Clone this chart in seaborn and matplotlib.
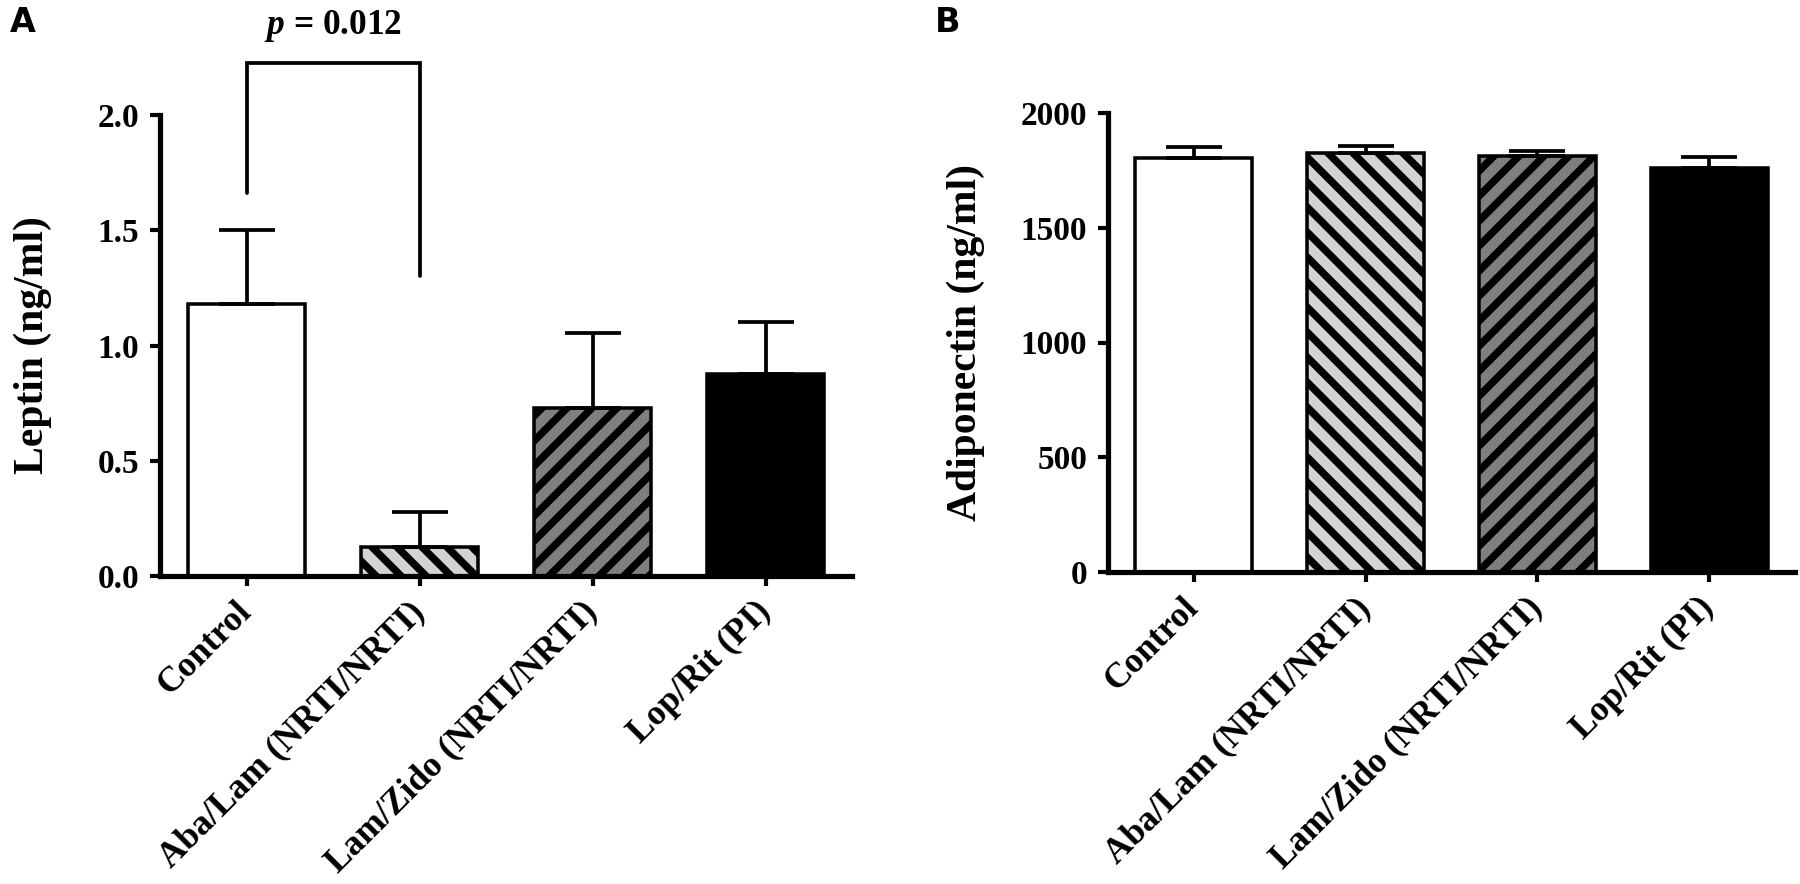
import numpy as np
import pandas as pd
import matplotlib
matplotlib.use("Agg")
import matplotlib.pyplot as plt
import seaborn as sns

groups = ["Control", "Aba/Lam (NRTI/NRTI)", "Lam/Zido (NRTI/NRTI)", "Lop/Rit (PI)"]

# panel A: leptin (mean, upper SEM)
leptin_mean = [1.18, 0.125, 0.73, 0.875]
leptin_sem = [0.32, 0.153, 0.325, 0.227]
leptin_ticks = [0.0, 0.5, 1.0, 1.5, 2.0]

# panel B: adiponectin
adipo_mean = [1805, 1827, 1812, 1762]
adipo_sem = [48, 29, 24, 48]
adipo_ticks = [0, 500, 1000, 1500, 2000]

bar_colors = ["white", "#d3d3d3", "#7f7f7f", "black"]
bar_hatches = ["", "\\\\", "//", ""]

# significance bracket, Control vs Aba/Lam
sig_pair = (0, 1)
sig_legs = (1.66, 1.30)
sig_top = 2.225
sig_label_y = 2.35
sig_text = r"$p$ = 0.012"

sns.set_theme(style="ticks")
plt.rcParams["font.family"] = ["Liberation Serif", "DejaVu Serif"]
plt.rcParams["font.weight"] = "bold"
plt.rcParams["axes.labelweight"] = "bold"
for key in ["text.color", "axes.labelcolor", "xtick.color", "ytick.color", "axes.edgecolor"]:
    plt.rcParams[key] = "black"
plt.rcParams["mathtext.fontset"] = "custom"
plt.rcParams["mathtext.it"] = "Liberation Serif:italic:bold"
plt.rcParams["mathtext.rm"] = "Liberation Serif:bold"
plt.rcParams["hatch.linewidth"] = 3.6
plt.rcParams["hatch.color"] = "black"


def draw_panel(ax, values, sems, ticks, ylabel, fmt, labelpad):
    df = pd.DataFrame({"group": groups, "value": values})
    sns.barplot(data=df, x="group", y="value", hue="group", order=groups,
                hue_order=groups, palette=bar_colors, saturation=1,
                legend=False, errorbar=None, width=0.68,
                edgecolor="black", linewidth=1.7, ax=ax)
    for patch, hatch in zip(ax.patches, bar_hatches):
        patch.set_hatch(hatch)

    # one-sided error bars
    ax.errorbar(np.arange(len(groups)), values,
                yerr=[np.zeros(len(sems)), sems], fmt="none",
                ecolor="black", elinewidth=1.8, capsize=13.5,
                capthick=1.8, zorder=3)

    ax.set_xlim(-0.5, len(groups) - 0.5)
    ax.set_ylim(ticks[0], ticks[-1])
    ax.set_yticks(ticks)
    ax.set_yticklabels([fmt.format(t) for t in ticks])
    ax.set_xticks(range(len(groups)))
    ax.set_xticklabels(groups, rotation=45, ha="right", va="center",
                       rotation_mode="anchor")
    ax.set_xlabel("")
    ax.set_ylabel(ylabel, fontsize=20, fontweight="bold", labelpad=labelpad)

    sns.despine(ax=ax)
    for side in ["left", "bottom"]:
        ax.spines[side].set_linewidth(2.5)
        ax.spines[side].set_color("black")
    ax.tick_params(axis="both", which="major", width=2.0, length=5,
                   color="black", labelcolor="black")
    ax.tick_params(axis="y", pad=5, labelsize=16)
    ax.tick_params(axis="x", pad=10, labelsize=17)
    for lab in ax.get_xticklabels() + ax.get_yticklabels():
        lab.set_fontweight("bold")


fig = plt.figure(figsize=(12, 884 / 150), dpi=150)
ax_a = fig.add_axes([160 / 1800, 1 - 576 / 884, 692 / 1800, 461 / 884])
ax_b = fig.add_axes([1108 / 1800, 1 - 572 / 884, 687 / 1800, 459 / 884])

draw_panel(ax_a, leptin_mean, leptin_sem, leptin_ticks, "Leptin (ng/ml)", "{:.1f}", 22)
draw_panel(ax_b, adipo_mean, adipo_sem, adipo_ticks, "Adiponectin (ng/ml)", "{:d}", 17)

# significance bracket above panel A
x0, x1 = sig_pair
ax_a.plot([x0, x0, x1, x1], [sig_legs[0], sig_top, sig_top, sig_legs[1]],
          color="black", lw=1.8, clip_on=False, solid_joinstyle="miter")
ax_a.text((x0 + x1) / 2, sig_label_y, sig_text, ha="center", va="baseline",
          fontsize=17, fontweight="bold", clip_on=False)

fig.text(10 / 1800, 1 - 32 / 884, "A", family="DejaVu Sans",
         fontweight="bold", fontsize=16, va="baseline")
fig.text(935 / 1800, 1 - 32 / 884, "B", family="DejaVu Sans",
         fontweight="bold", fontsize=16, va="baseline")

fig.savefig("out.png", dpi=150)
